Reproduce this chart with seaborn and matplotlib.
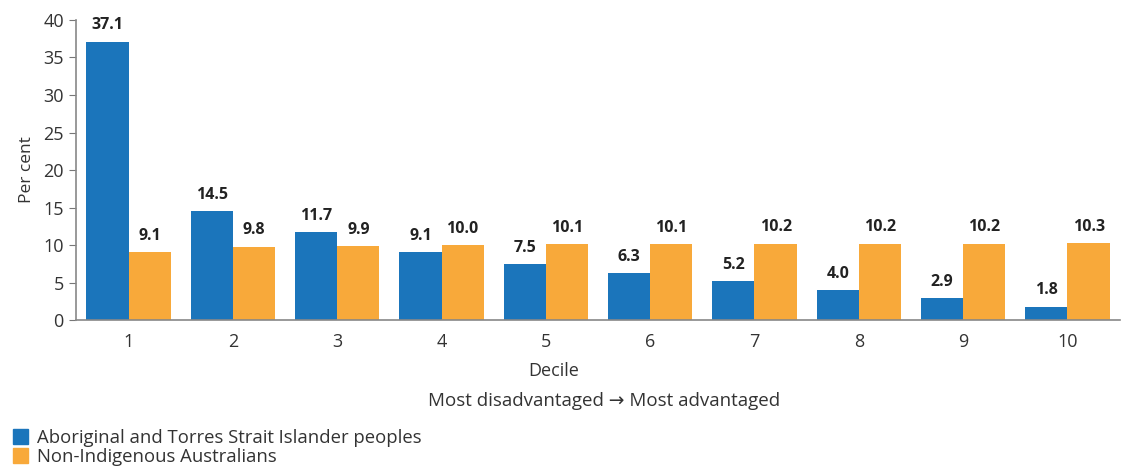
import pandas as pd
import seaborn as sns
import matplotlib.pyplot as plt

# Share of each population by decile
deciles = [str(i) for i in range(1, 11)]
indigenous = [37.1, 14.5, 11.7, 9.1, 7.5, 6.3, 5.2, 4.0, 2.9, 1.8]
non_indigenous = [9.1, 9.8, 9.9, 10.0, 10.1, 10.1, 10.2, 10.2, 10.2, 10.3]
groups = ["Aboriginal and Torres Strait Islander peoples", "Non-Indigenous Australians"]
colors = ["#1b75bb", "#f8a93a"]

df = pd.DataFrame({
    "Decile": deciles * 2,
    "Per cent": indigenous + non_indigenous,
    "Group": [groups[0]] * 10 + [groups[1]] * 10,
})

sns.set_style("white")
plt.rcParams["font.family"] = ["Open Sans", "DejaVu Sans"]

fig = plt.figure(figsize=(11.23, 4.75), dpi=100)
ax = fig.add_axes([0.068, 0.326, 0.929, 0.632])

sns.barplot(data=df, x="Decile", y="Per cent", hue="Group", palette=colors,
            width=0.81, saturation=1, linewidth=0, ax=ax, legend=False)

for c in ax.containers:
    ax.bar_label(c, fmt="%.1f", padding=6, fontsize=11.5, fontweight="bold", color="#222222")

ax.set_ylim(0, 40)
ax.set_yticks(range(0, 41, 5))
ax.set_xlim(-0.5, 9.5)
ax.tick_params(axis="y", which="both", left=True, length=5, color="#777777",
               labelsize=13, labelcolor="#333333", pad=4)
ax.tick_params(axis="x", bottom=False, labelsize=13, labelcolor="#333333", pad=6)
for side in ["top", "right"]:
    ax.spines[side].set_visible(False)
for side in ["left", "bottom"]:
    ax.spines[side].set_color("#888888")
    ax.spines[side].set_linewidth(1.2)

ax.set_ylabel("Per cent", fontsize=12.5, color="#333333", labelpad=6)
ax.set_xlabel("Decile", fontsize=13, color="#333333", labelpad=8)
ax.xaxis.set_label_coords(0.458, -0.14)
fig.text(0.538, 0.155, "Most disadvantaged \u2192 Most advantaged", ha="center",
         va="center", fontsize=13.5, color="#333333")

handles = [plt.Rectangle((0, 0), 1, 1, color=c) for c in colors]
fig.legend(handles, groups, loc="lower left", bbox_to_anchor=(0.0, -0.008),
           frameon=False, fontsize=13.3, handlelength=0.8, handleheight=0.8,
           handletextpad=0.5, labelspacing=0.05, borderaxespad=0.3,
           labelcolor="#333333")

fig.savefig("out.png", dpi=100)
